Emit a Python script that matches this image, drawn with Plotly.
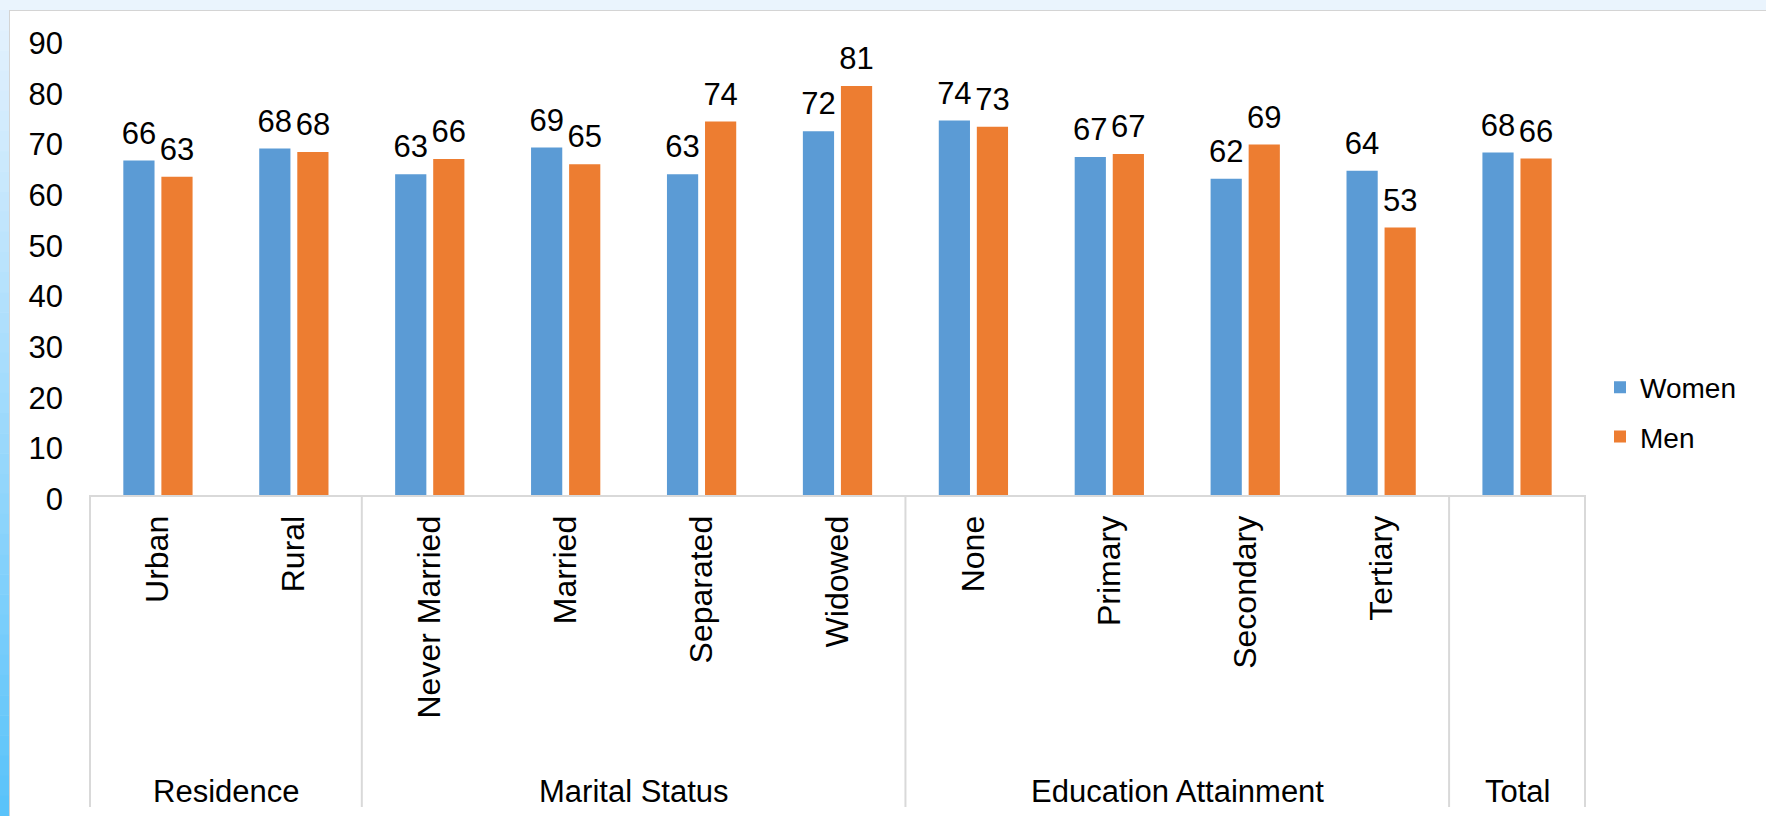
import plotly.graph_objects as go

# ---------------- data ----------------
categories = ["Urban", "Rural",
              "Never Married", "Married", "Separated", "Widowed",
              "None", "Primary", "Secondary", "Tertiary",
              "Total"]
tick_labels = ["Urban", "Rural",
               "Never Married", "Married", "Separated", "Widowed",
               "None", "Primary", "Secondary", "Tertiary",
               ""]
groups = ["Residence", "Marital Status", "Education Attainment", "Total"]
group_sizes = [2, 4, 4, 1]

women = [66.0, 68.4, 63.3, 68.6, 63.3, 71.8, 73.9, 66.7, 62.4, 64.0, 67.6]
men = [62.8, 67.7, 66.3, 65.3, 73.7, 80.7, 72.7, 67.3, 69.2, 52.8, 66.4]

y_ticks = [0, 10, 20, 30, 40, 50, 60, 70, 80, 90]

# ---------------- style ----------------
W, H = 1766, 816
ML, MR, MT, MB = 89, 180, 39, 321
PW, PH = W - ML - MR, H - MT - MB
FONT = "Liberation Sans, Arial, sans-serif"
BLUE = "#5B9BD5"
ORANGE = "#ED7D31"
BARGAP = 0.44


def px_x(px):
    return (px - ML) / PW


def px_y(py):
    return (H - MB - py) / PH


fig = go.Figure()
for name, vals, col, grp in [("Women", women, BLUE, "w"), ("Men", men, ORANGE, "m")]:
    fig.add_trace(go.Bar(
        name=name, x=categories, y=vals, offsetgroup=grp, legendgroup=grp,
        marker=dict(color=col, line=dict(width=0)),
    ))
for name, vals, grp in [("Women", women, "w"), ("Men", men, "m")]:
    fig.add_trace(go.Scatter(
        name=name, x=categories, y=vals, offsetgroup=grp, legendgroup=grp,
        mode="markers+text", showlegend=False, hoverinfo="skip",
        marker=dict(size=13, opacity=0),
        text=["%.0f" % v for v in vals], textposition="top center",
        textfont=dict(family=FONT, size=31, color="black"),
        cliponaxis=False,
    ))

shapes = []
# background decoration: top strip and left gradient strip
shapes.append(dict(type="rect", xref="paper", yref="paper",
                   x0=px_x(0), x1=px_x(W), y0=px_y(0), y1=px_y(10),
                   fillcolor="#EAF4FD", line=dict(width=0), layer="below"))
n_bands = 40
c_top = (228, 241, 253)
c_bot = (90, 195, 250)
for i in range(n_bands):
    t = i / (n_bands - 1)
    col = tuple(int(round(c_top[k] + (c_bot[k] - c_top[k]) * t)) for k in range(3))
    y0p = 10 + (H - 10) * i / n_bands
    y1p = 10 + (H - 10) * (i + 1) / n_bands
    shapes.append(dict(type="rect", xref="paper", yref="paper",
                       x0=px_x(0), x1=px_x(9), y0=px_y(y1p + 0.5), y1=px_y(y0p),
                       fillcolor="rgb(%d,%d,%d)" % col, line=dict(width=0), layer="below"))
# thin border lines of white panel
shapes.append(dict(type="line", xref="paper", yref="paper",
                   x0=px_x(9), x1=px_x(W), y0=px_y(10.5), y1=px_y(10.5),
                   line=dict(color="#D4D4D4", width=1), layer="below"))
shapes.append(dict(type="line", xref="paper", yref="paper",
                   x0=px_x(9.5), x1=px_x(9.5), y0=px_y(10), y1=px_y(H),
                   line=dict(color="#D4D4D4", width=1), layer="below"))

# group dividers (computed from group sizes)
div_bottom = px_y(807)
boundaries = [-0.5]
acc = -0.5
for s in group_sizes:
    acc += s
    boundaries.append(acc)
for b in boundaries:
    shapes.append(dict(type="line", xref="x", yref="paper", x0=b, x1=b,
                       y0=0, y1=div_bottom, line=dict(color="#D9D9D9", width=2)))

annotations = []
start = 0
for g, s in zip(groups, group_sizes):
    center = start + (s - 1) / 2
    annotations.append(dict(x=center, xref="x", y=px_y(792), yref="paper",
                            text=g, showarrow=False, xanchor="center", yanchor="middle",
                            font=dict(family=FONT, size=31, color="black")))
    start += s

fig.update_layout(
    width=W, height=H,
    margin=dict(l=ML, r=MR, t=MT, b=MB, pad=0),
    paper_bgcolor="white", plot_bgcolor="white",
    barmode="group", bargap=BARGAP, bargroupgap=0.18,
    scattermode="group", scattergap=BARGAP,
    font=dict(family=FONT, size=31, color="black"),
    showlegend=True,
    legend=dict(x=px_x(1600), xanchor="left", y=px_y(412), yanchor="middle",
                font=dict(family=FONT, size=28, color="black"),
                traceorder="grouped", tracegroupgap=10,
                bgcolor="rgba(0,0,0,0)", borderwidth=0),
    xaxis=dict(type="category", tickangle=-90, showgrid=False, zeroline=False,
               showline=True, linecolor="#D9D9D9", linewidth=2, ticks="",
               tickmode="array", tickvals=categories, ticktext=tick_labels,
               tickfont=dict(family=FONT, size=32, color="black"),
               ticklabelstandoff=6),
    yaxis=dict(range=[0, 90], tickvals=y_ticks, showgrid=False, zeroline=False,
               showline=False, ticks="", ticklabelstandoff=25, ticklabelshift=4,
               tickfont=dict(family=FONT, size=31, color="black")),
    shapes=shapes, annotations=annotations,
)

fig.write_html("out.html", config={"displayModeBar": False},
               post_script="document.body.style.margin='0';")
